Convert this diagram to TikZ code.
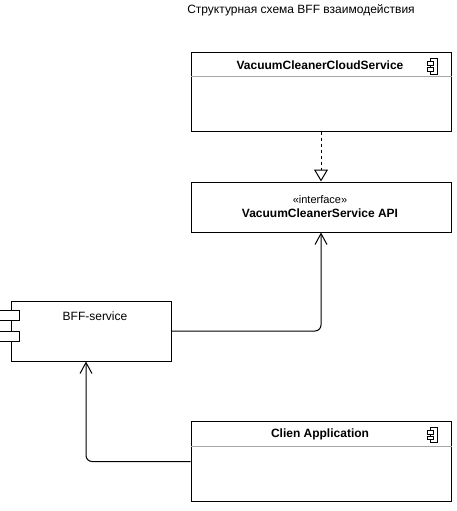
\documentclass[tikz,border=0pt]{standalone}
\usepackage{fontspec}
\setmainfont{Liberation Sans}
\usetikzlibrary{arrows.meta}

\tikzset{
  box/.style={draw, line width=1pt, inner sep=0pt, minimum width=260pt},
  sep/.style={draw=gray!70, line width=1pt},
  conn/.style={line width=1pt, rounded corners=6pt, -{Straight Barb[length=11pt,width=12pt,line width=1pt]}},
  realize/.style={line width=1pt, dashed, -{Triangle[open,length=12pt,width=14pt,line width=1pt]}},
  txt/.style={font=\fontsize{12}{14}\selectfont},
  compicon/.pic={
    \draw[line width=1pt] (-2.5,-7.5) rectangle (4.5,7.5);
    \draw[line width=1pt, fill=white] (-5.5,-4.5) rectangle (0.5,-1);
    \draw[line width=1pt, fill=white] (-5.5,1) rectangle (0.5,4.5);
  }
}

\begin{document}
\begin{tikzpicture}[x=1pt,y=-1pt]
    \useasboundingbox (0,0) rectangle (456,511);

    \node[txt] (title) at (301,10) {Структурная схема BFF взаимодействия};

    % components
    \node[box, minimum height=78pt] (cloud) at (321,92) {};
    \draw[sep] ([yshift=-24]cloud.north west) -- ([yshift=-24]cloud.north east);
    \node[txt, font=\fontsize{12}{14}\selectfont\bfseries] (cloudname) at (320,65) {VacuumCleanerCloudService};
    \pic at ([xshift=-19,yshift=-14]cloud.north east) {compicon};

    \node[box, minimum height=50pt] (iface) at (321,207) {};
    \node[txt, align=center, font=\fontsize{12}{14}\selectfont] (ifacename) at (320,207)
        {{\fontsize{11}{13}\selectfont«interface»}\\\textbf{VacuumCleanerService API}};

    \node[box, minimum width=160pt, minimum height=60pt] (bff) at (91,331) {};
    \draw[line width=1pt, fill=white] ([xshift=-11,yshift=-10]bff.north west) rectangle ([xshift=9,yshift=-20]bff.north west);
    \draw[line width=1pt, fill=white] ([xshift=-11,yshift=-31]bff.north west) rectangle ([xshift=9,yshift=-41]bff.north west);
    \node[txt] (bffname) at (95,316) {BFF-service};

    \node[box, minimum height=80pt] (client) at (321,461.5) {};
    \draw[sep] ([yshift=-25]client.north west) -- ([yshift=-25]client.north east);
    \node[txt, font=\fontsize{12}{14}\selectfont\bfseries] (clientname) at (320,434) {Clien Application};
    \pic at ([xshift=-19,yshift=-14]client.north east) {compicon};

    % connectors
    \draw[realize] (cloud.south) -- (iface.north);
    \draw[conn] (bff.east) -| (iface.south);
    \draw[conn] (client.west) -| ([xshift=-5]bff.south);
\end{tikzpicture}
\end{document}
